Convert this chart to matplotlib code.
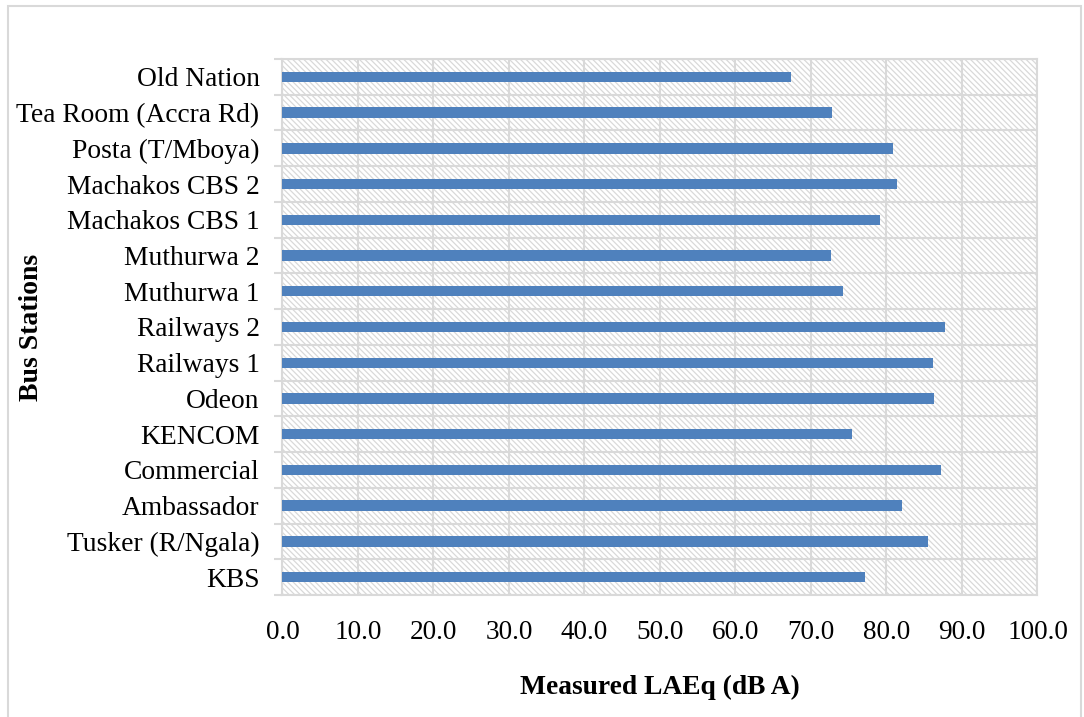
import matplotlib
matplotlib.use("Agg")
import matplotlib.pyplot as plt
from matplotlib.patches import Rectangle

# Noise levels per bus station (bottom to top)
stations = ["KBS", "Tusker (R/Ngala)", "Ambassador", "Commercial", "KENCOM",
            "Odeon", "Railways 1", "Railways 2", "Muthurwa 1", "Muthurwa 2",
            "Machakos CBS 1", "Machakos CBS 2", "Posta (T/Mboya)",
            "Tea Room (Accra Rd)", "Old Nation"]
laeq = [77.2, 85.5, 82.1, 87.2, 75.4,
        86.3, 86.1, 87.7, 74.3, 72.7,
        79.1, 81.4, 80.9, 72.8, 67.4]
x_ticks = [0, 10, 20, 30, 40, 50, 60, 70, 80, 90, 100]

plt.rcParams["font.family"] = ["Liberation Serif", "DejaVu Serif"]
plt.rcParams["hatch.color"] = "#d6d6d6"
plt.rcParams["hatch.linewidth"] = 0.9

grid_c = "#d9d9d9"
bar_c = "#4f81bd"

fig = plt.figure(figsize=(10.84, 7.17), dpi=100)
ax = fig.add_axes([0.2606, 0.1702, 0.6965, 0.7475])

# hatched plot area background
ax.add_patch(Rectangle((0, 0), 1, 1, transform=ax.transAxes, facecolor="white",
                       edgecolor=grid_c, hatch="\\\\\\\\\\\\", linewidth=0, zorder=0))

ypos = list(range(len(stations)))
ax.barh(ypos, laeq, height=0.29, color=bar_c, zorder=3)

ax.set_xlim(0, 100)
ax.set_ylim(-0.5, len(stations) - 0.5)
ax.set_xticks(x_ticks)
ax.set_xticklabels([f"{v:.1f}" for v in x_ticks], fontsize=19.6)
ax.set_yticks(ypos)
ax.set_yticklabels(stations, fontsize=19.8)
ax.set_yticks([i - 0.5 for i in range(len(stations) + 1)], minor=True)

ax.tick_params(axis="x", length=0, pad=18)
ax.tick_params(axis="y", which="major", length=0, pad=16.5)
ax.tick_params(axis="y", which="minor", length=6, color=grid_c, width=1.5)

ax.grid(axis="x", which="major", color=grid_c, linewidth=1.5, zorder=1)
ax.grid(axis="y", which="minor", color=grid_c, linewidth=1.5, zorder=1)
ax.set_axisbelow(True)
for s in ax.spines.values():
    s.set_color(grid_c)
    s.set_linewidth(1.5)

ax.set_xlabel("Measured LAEq (dB A)", fontsize=19.8, fontweight="bold", va="center")
ax.xaxis.set_label_coords(0.5, -0.172)
ax.set_ylabel("Bus Stations", fontsize=20, fontweight="bold", va="center")
ax.yaxis.set_label_coords(-0.333, 0.5)

# outer chart border
fig.add_artist(Rectangle((8 / 1084, -0.02), 1073 / 1084, 1 - 6 / 717 + 0.02,
                         transform=fig.transFigure, fill=False,
                         edgecolor=grid_c, linewidth=1.5))

fig.savefig("out.png", dpi=100)
